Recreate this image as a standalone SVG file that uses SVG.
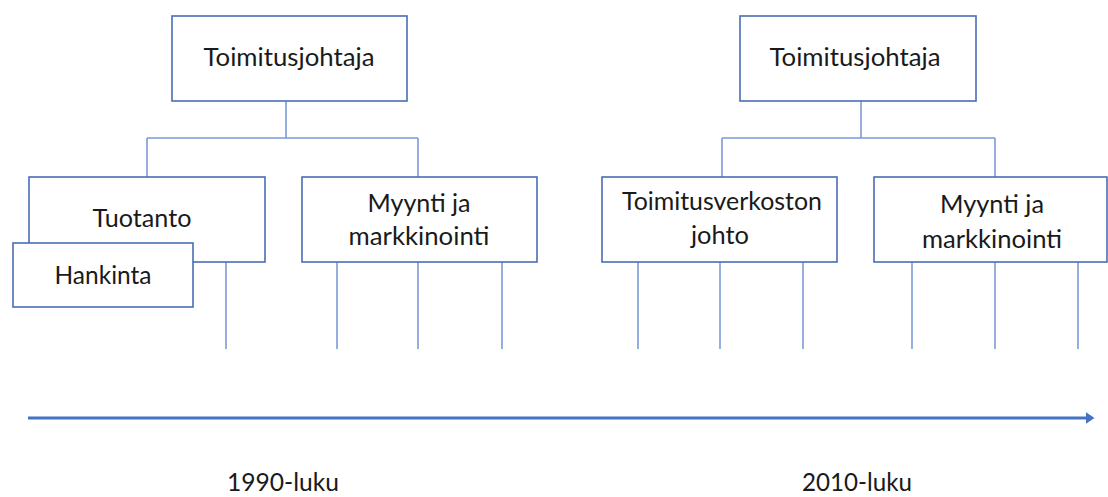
<svg xmlns="http://www.w3.org/2000/svg" width="1108" height="497" viewBox="0 0 1108 497">
  <style>
    .box { fill: #ffffff; stroke: #4a6db3; stroke-width: 1.6; }
    .lbl { font-family: Lato, "Open Sans", "Liberation Sans", sans-serif; font-size: 25px; fill: #1a1a1a; text-anchor: middle; }
    .con { fill: none; stroke: #7b9bd6; stroke-width: 1.6; }
    .axis { fill: none; stroke: #4472c4; stroke-width: 3; }
  </style>
  <defs>
    <marker id="arrow" markerWidth="4" markerHeight="4" refX="0.5" refY="2" orient="auto" markerUnits="strokeWidth">
      <path d="M0,0 L3,2 L0,4 Z" fill="#4472c4"/>
    </marker>
  </defs>

  <rect width="1108" height="497" fill="#ffffff"/>

  <!-- connectors -->
  <g id="connectors">
    <!-- 1990s tree -->
    <path class="con" d="M286,101 V138 M147,138 H418 M147,138 V177 M418,138 V177"/>
    <path class="con" d="M226,262 V349 M337,262 V349 M418,262 V349 M502,262 V349"/>
    <!-- 2010s tree -->
    <path class="con" d="M861,101 V138 M722,138 H995 M722,138 V177 M995,138 V177"/>
    <path class="con" d="M638,262 V349 M720,262 V349 M803,262 V349 M912,262 V349 M995,262 V349 M1078,262 V349"/>
    <!-- time axis -->
    <line class="axis" x1="28" y1="418" x2="1087" y2="418" marker-end="url(#arrow)"/>
  </g>

  <!-- 1990s organisation -->
  <g id="ceo-1990">
    <rect class="box" x="172" y="16" width="235" height="85"/>
    <text class="lbl" x="289" y="66" textLength="171" lengthAdjust="spacingAndGlyphs">Toimitusjohtaja</text>
  </g>
  <g id="tuotanto">
    <rect class="box" x="29" y="177" width="236" height="85"/>
    <text class="lbl" x="142" y="227" textLength="99" lengthAdjust="spacingAndGlyphs">Tuotanto</text>
  </g>
  <g id="hankinta">
    <rect class="box" x="13" y="243" width="180" height="64"/>
    <text class="lbl" x="103" y="284" textLength="97" lengthAdjust="spacingAndGlyphs">Hankinta</text>
  </g>
  <g id="myynti-1990">
    <rect class="box" x="302" y="177" width="235" height="85"/>
    <text class="lbl" x="419" y="212" textLength="103" lengthAdjust="spacingAndGlyphs">Myynti ja</text>
    <text class="lbl" x="419" y="245" textLength="141" lengthAdjust="spacingAndGlyphs">markkinointi</text>
  </g>

  <!-- 2010s organisation -->
  <g id="ceo-2010">
    <rect class="box" x="740" y="16" width="236" height="85"/>
    <text class="lbl" x="855" y="66" textLength="171" lengthAdjust="spacingAndGlyphs">Toimitusjohtaja</text>
  </g>
  <g id="toimitusverkosto">
    <rect class="box" x="602" y="177" width="235" height="85"/>
    <text class="lbl" x="722" y="210" textLength="200" lengthAdjust="spacingAndGlyphs">Toimitusverkoston</text>
    <text class="lbl" x="720" y="244" textLength="58" lengthAdjust="spacingAndGlyphs">johto</text>
  </g>
  <g id="myynti-2010">
    <rect class="box" x="874" y="177" width="233" height="85"/>
    <text class="lbl" x="992" y="213" textLength="104" lengthAdjust="spacingAndGlyphs">Myynti ja</text>
    <text class="lbl" x="992" y="248" textLength="140" lengthAdjust="spacingAndGlyphs">markkinointi</text>
  </g>

  <!-- decade labels -->
  <g id="decades">
    <text class="lbl" x="283" y="491" textLength="112" lengthAdjust="spacingAndGlyphs">1990-luku</text>
    <text class="lbl" x="857" y="491" textLength="110" lengthAdjust="spacingAndGlyphs">2010-luku</text>
  </g>
</svg>
